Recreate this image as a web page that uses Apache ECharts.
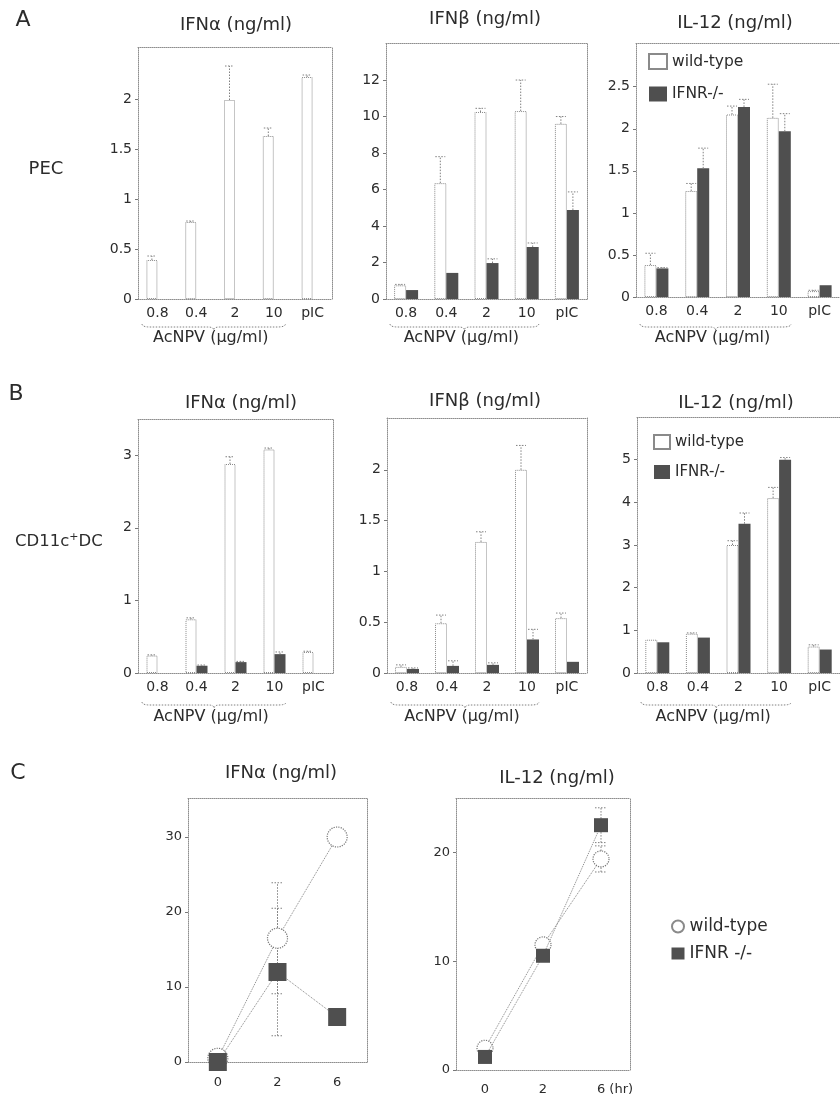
<!DOCTYPE html>
<html>
<head>
<meta charset="utf-8">
<script src="https://cdn.jsdelivr.net/npm/echarts@6/dist/echarts.min.js"></script>
<style>
html,body{margin:0;padding:0;background:#fff;}
#chart{width:840px;height:1100px;}
</style>
</head>
<body>
<div id="chart"></div>
<script>
// ---------- categories & labels ----------
const doses = ['0.8', '0.4', '2', '10', 'pIC'];
const hours = ['0', '2', '6'];
const hourUnit = '(hr)';
const groupNames = ['wild-type', 'IFNR-/-'];
const groupNamesC = ['wild-type', 'IFNR -/-'];
const doseAxisName = 'AcNPV (μg/ml)';
const panelLetters = ['A', 'B', 'C'];
const rowLabelPEC = 'PEC';

// ---------- A: PEC ----------
const pecIfnaWT   = [0.39, 0.77, 1.99, 1.63, 2.22];
const pecIfnaWTsd = [0.04, 0.01, 0.34, 0.08, 0.02];
const pecIfnaKO   = [null, null, null, null, null];
const pecIfnaKOsd = [0, 0, 0, 0, 0];

const pecIfnbWT   = [0.75, 6.35, 10.25, 10.3, 9.6];
const pecIfnbWTsd = [0.05, 1.45, 0.2, 1.7, 0.4];
const pecIfnbKO   = [0.49, 1.43, 1.97, 2.85, 4.88];
const pecIfnbKOsd = [0, 0, 0.23, 0.22, 0.99];

const pecIl12WT   = [0.38, 1.26, 2.17, 2.13, 0.07];
const pecIl12WTsd = [0.14, 0.09, 0.1, 0.4, 0.01];
const pecIl12KO   = [0.34, 1.53, 2.26, 1.97, 0.14];
const pecIl12KOsd = [0.01, 0.24, 0.09, 0.21, 0];

// ---------- B: CD11c+ DC ----------
const dcIfnaWT   = [0.24, 0.74, 2.88, 3.08, 0.29];
const dcIfnaWTsd = [0.01, 0.02, 0.1, 0.02, 0.01];
const dcIfnaKO   = [null, 0.1, 0.15, 0.26, null];
const dcIfnaKOsd = [0, 0.01, 0.01, 0.03, 0];

const dcIfnbWT   = [0.06, 0.49, 1.29, 2.0, 0.54];
const dcIfnbWTsd = [0.02, 0.08, 0.1, 0.24, 0.05];
const dcIfnbKO   = [0.04, 0.07, 0.08, 0.33, 0.11];
const dcIfnbKOsd = [0.01, 0.05, 0.02, 0.1, 0];

const dcIl12WT   = [0.78, 0.92, 3.0, 4.1, 0.62];
const dcIl12WTsd = [0, 0.02, 0.1, 0.25, 0.04];
const dcIl12KO   = [0.72, 0.83, 3.5, 5.0, 0.55];
const dcIl12KOsd = [0, 0, 0.25, 0.05, 0];

// ---------- C: time course ----------
const timeIfnaWT   = [0.5, 16.5, 30];
const timeIfnaWTsd = [0, 7.4, 0];
const timeIfnaKO   = [0, 12, 6];
const timeIfnaKOsd = [0, 8.5, 0];

const timeIl12WT   = [2.0, 11.5, 19.4];
const timeIl12WTsd = [0, 0, 1.2];
const timeIl12KO   = [1.2, 10.5, 22.5];
const timeIl12KOsd = [0, 0, 1.6];

// ---------- tick labels ----------
const ticksA1 = [0, 0.5, 1, 1.5, 2];
const ticksA2 = [0, 2, 4, 6, 8, 10, 12];
const ticksA3 = [0, 0.5, 1, 1.5, 2, 2.5];
const ticksB1 = [0, 1, 2, 3];
const ticksB2 = [0, 0.5, 1, 1.5, 2];
const ticksB3 = [0, 1, 2, 3, 4, 5];
const ticksC1 = [0, 10, 20, 30];
const ticksC2 = [0, 10, 20];

// ---------- styling ----------
const FONT = "'DejaVu Sans', sans-serif";
const INK = '#2c2c2c';
const FRAME = '#8e8e8e';
const DARK = '#4f4f4f';

const barPanels = [
  {grid:{left:138, top:47,  width:194, height:252}, max:2.52, ticks:ticksA1, bw:11, wt:pecIfnaWT, wtSd:pecIfnaWTsd, ko:pecIfnaKO, koSd:pecIfnaKOsd, title:'IFNα (ng/ml)', tx:236, ty:25},
  {grid:{left:386, top:43,  width:201, height:256}, max:14.03, ticks:ticksA2, bw:12, wt:pecIfnbWT, wtSd:pecIfnbWTsd, ko:pecIfnbKO, koSd:pecIfnbKOsd, title:'IFNβ (ng/ml)', tx:485, ty:19},
  {grid:{left:636, top:43,  width:213, height:254}, max:3.02, ticks:ticksA3, bw:12, wt:pecIl12WT, wtSd:pecIl12WTsd, ko:pecIl12KO, koSd:pecIl12KOsd, title:'IL-12 (ng/ml)', tx:735, ty:23},
  {grid:{left:138, top:419, width:195, height:254}, max:3.5, ticks:ticksB1, bw:11, wt:dcIfnaWT, wtSd:dcIfnaWTsd, ko:dcIfnaKO, koSd:dcIfnaKOsd, title:'IFNα (ng/ml)', tx:241, ty:403},
  {grid:{left:387, top:418, width:200, height:255}, max:2.51, ticks:ticksB2, bw:12, wt:dcIfnbWT, wtSd:dcIfnbWTsd, ko:dcIfnbKO, koSd:dcIfnbKOsd, title:'IFNβ (ng/ml)', tx:485, ty:401},
  {grid:{left:637, top:417, width:213, height:256}, max:6.0, ticks:ticksB3, bw:12, wt:dcIl12WT, wtSd:dcIl12WTsd, ko:dcIl12KO, koSd:dcIl12KOsd, title:'IL-12 (ng/ml)', tx:736, ty:403}
];
const linePanels = [
  {grid:{left:188, top:798, width:179, height:264}, max:35.2, ticks:ticksC1, sym:20, margin:14, unit:false, wt:timeIfnaWT, wtSd:timeIfnaWTsd, ko:timeIfnaKO, koSd:timeIfnaKOsd, title:'IFNα (ng/ml)', tx:281, ty:773},
  {grid:{left:456, top:798, width:174, height:272}, max:25, ticks:ticksC2, sym:16, margin:13, unit:true, wt:timeIl12WT, wtSd:timeIl12WTsd, ko:timeIl12KO, koSd:timeIl12KOsd, title:'IL-12 (ng/ml)', tx:557, ty:778}
];

const frameLine = {show:true, onZero:false, lineStyle:{color:FRAME, width:1, type:'dotted'}};

function frameAxes(p, xAxes, yAxes) {
  xAxes.push({type:'value', gridIndex:p, position:'top', min:0, max:1, axisLine:frameLine,
    axisTick:{show:false}, axisLabel:{show:false}, splitLine:{show:false}});
  yAxes.push({type:'value', gridIndex:p, position:'right', min:0, max:1, axisLine:frameLine,
    axisTick:{show:false}, axisLabel:{show:false}, splitLine:{show:false}});
}

function mainY(p, max, ticks, fs) {
  return {type:'value', gridIndex:p, min:0, max:max, position:'left',
    axisLine:frameLine, splitLine:{show:false},
    axisTick:{show:true, length:3, customValues:ticks, lineStyle:{color:'#777'}},
    axisLabel:{customValues:ticks, color:INK, fontFamily:FONT, fontSize:fs, margin:6}};
}

function errRows(mean, sd, side) {
  const rows = [];
  mean.forEach((m, i) => { if (m !== null && sd[i] > 0) rows.push([i, m, sd[i], side]); });
  return rows;
}

function errorSeries(p, rows, half, symmetric, capW, z) {
  return {type:'custom', xAxisIndex:2*p, yAxisIndex:2*p, z:z, silent:true,
    encode:{x:0, y:1}, data:rows,
    renderItem(params, api) {
      const cat = api.value(0), m = api.value(1), sd = api.value(2), side = api.value(3);
      const b = api.coord([cat, m]);
      const cx = b[0] + side * half;
      const yt = api.coord([cat, m + sd])[1];
      const yb = symmetric ? api.coord([cat, m - sd])[1] : b[1];
      const st = {stroke:'#808080', lineWidth:1, lineDash:[1.5, 1.5], fill:null};
      const ch = [
        {type:'line', shape:{x1:cx, y1:yb, x2:cx, y2:yt}, style:st},
        {type:'line', shape:{x1:cx - capW/2, y1:yt, x2:cx + capW/2, y2:yt}, style:st}
      ];
      if (symmetric) ch.push({type:'line', shape:{x1:cx - capW/2, y1:yb, x2:cx + capW/2, y2:yb}, style:st});
      return {type:'group', children:ch};
    }};
}

const grids = [], xAxes = [], yAxes = [], series = [];

barPanels.forEach((bp, p) => {
  grids.push(Object.assign({containLabel:false}, bp.grid));
  xAxes.push({type:'category', gridIndex:p, data:doses, position:'bottom',
    axisLine:frameLine, axisTick:{show:false},
    axisLabel:{interval:0, color:INK, fontFamily:FONT, fontSize:14, margin:7}});
  yAxes.push(mainY(p, bp.max, bp.ticks, 14));
  frameAxes(p, xAxes, yAxes);
  series.push({type:'bar', name:groupNames[0], xAxisIndex:2*p, yAxisIndex:2*p, data:bp.wt,
    barWidth:bp.bw, barGap:'0%',
    itemStyle:{color:'#ffffff', borderColor:'#8a8a8a', borderWidth:1, borderType:'dotted'}});
  series.push({type:'bar', name:groupNames[1], xAxisIndex:2*p, yAxisIndex:2*p, data:bp.ko,
    barWidth:bp.bw, barGap:'0%', itemStyle:{color:DARK}});
  series.push(errorSeries(p, errRows(bp.wt, bp.wtSd, -1).concat(errRows(bp.ko, bp.koSd, 1)),
    bp.bw/2, false, bp.bw - 2, 3));
});

linePanels.forEach((lp, k) => {
  const p = barPanels.length + k;
  grids.push(Object.assign({containLabel:false}, lp.grid));
  const lab = {interval:0, color:INK, fontFamily:FONT, fontSize:13, margin:lp.margin};
  if (lp.unit) {
    lab.formatter = (v, i) => i === hours.length - 1 ? '{p|}{a|' + v + '}{h| ' + hourUnit + '}' : v;
    lab.rich = {p:{width:28, fontSize:13, fontFamily:FONT}, a:{fontSize:13, fontFamily:FONT, color:INK},
                h:{fontSize:13, fontFamily:FONT, color:INK}};
  }
  xAxes.push({type:'category', gridIndex:p, data:hours, position:'bottom',
    axisLine:frameLine, axisTick:{show:false}, axisLabel:lab});
  yAxes.push(mainY(p, lp.max, lp.ticks, 13));
  frameAxes(p, xAxes, yAxes);
  const rows = errRows(lp.wt, lp.wtSd, 0).concat(errRows(lp.ko, lp.koSd, 0));
  series.push(errorSeries(p, rows, 0, true, 12, 1));
  series.push({type:'line', name:groupNamesC[0], xAxisIndex:2*p, yAxisIndex:2*p, data:lp.wt,
    symbol:'circle', symbolSize:lp.sym, z:2,
    lineStyle:{color:'#858585', width:1, type:'dotted'},
    itemStyle:{color:'#ffffff', borderColor:'#777777', borderWidth:1.2, borderType:'dotted'}});
  series.push({type:'line', name:groupNamesC[1], xAxisIndex:2*p, yAxisIndex:2*p, data:lp.ko,
    symbol:'rect', symbolSize:lp.sym - 2, z:3,
    lineStyle:{color:'#858585', width:1, type:'dotted'},
    itemStyle:{color:DARK}});
});

const legendText = (fs) => ({color:INK, fontFamily:FONT, fontSize:fs, lineHeight:16});

const option = {
  animation:false,
  backgroundColor:'#ffffff',
  grid:grids, xAxis:xAxes, yAxis:yAxes, series:series,
  legend:[
    {left:648, top:53, padding:0, orient:'vertical', selectedMode:false, itemWidth:18, itemHeight:15, itemGap:16,
      icon:'rect', data:groupNames, textStyle:legendText(15.5)},
    {left:653, top:434, padding:0, orient:'vertical', selectedMode:false, itemWidth:16, itemHeight:14, itemGap:14,
      icon:'rect', data:groupNames, textStyle:legendText(15)},
    {left:671, top:918, padding:0, orient:'vertical', selectedMode:false, itemWidth:13, itemHeight:12, itemGap:10,
      data:[{name:groupNamesC[0], icon:'circle'}, {name:groupNamesC[1], icon:'rect'}], textStyle:legendText(17)}
  ]
};

const chart = echarts.init(document.getElementById('chart'), null, {renderer:'canvas'});
chart.setOption(option);

// ---------- annotations (titles, braces, row labels) ----------
const g = [];
const textEl = (txt, x, y, fs, align) => ({type:'text', x:x, y:y, silent:true,
  style:{text:txt, fill:INK, font:fs + 'px ' + FONT, align:align || 'center', verticalAlign:'middle'}});

barPanels.concat(linePanels).forEach(pp => g.push(textEl(pp.title, pp.tx, pp.ty, 18)));

function quad(pts, a, c, b, n) {
  for (let i = 1; i <= n; i++) {
    const t = i / n, u = 1 - t;
    pts.push([u*u*a[0] + 2*u*t*c[0] + t*t*b[0], u*u*a[1] + 2*u*t*c[1] + t*t*b[1]]);
  }
}

const braceRows = [{top:324, textY:338}, {top:702, textY:717}];
barPanels.forEach((bp, p) => {
  const row = braceRows[Math.floor(p / 3)];
  const c0 = chart.convertToPixel({xAxisIndex:2*p}, 0);
  const c1 = chart.convertToPixel({xAxisIndex:2*p}, 1);
  const c3 = chart.convertToPixel({xAxisIndex:2*p}, 3);
  const cw = c1 - c0;
  const x0 = c0 - cw/2 + 4, x1 = c3 + cw*0.3, xm = (x0 + x1)/2, y = row.top;
  const pts = [[x0, y]];
  quad(pts, [x0, y], [x0, y+3], [x0+8, y+3], 6);
  pts.push([xm-6, y+3]);
  quad(pts, [xm-6, y+3], [xm, y+3], [xm, y+6], 5);
  quad(pts, [xm, y+6], [xm, y+3], [xm+6, y+3], 5);
  pts.push([x1-8, y+3]);
  quad(pts, [x1-8, y+3], [x1, y+3], [x1, y], 6);
  g.push({type:'polyline', silent:true, shape:{points:pts},
    style:{fill:null, stroke:'#808080', lineWidth:1, lineDash:[1.5, 1.5]}});
  g.push(textEl(doseAxisName, xm - 3, row.textY, 16));
});

g.push(textEl(panelLetters[0], 23, 20, 22));
g.push(textEl(panelLetters[1], 16, 394, 22));
g.push(textEl(panelLetters[2], 18, 773, 22));
g.push(textEl(rowLabelPEC, 46, 169, 18));
g.push({type:'text', x:15, y:541, silent:true,
  style:{text:'{n|CD11c}{s|+}{n|DC}', align:'left', verticalAlign:'middle',
    rich:{n:{fontSize:16.5, fontFamily:FONT, fill:INK, lineHeight:19, verticalAlign:'bottom'},
          s:{fontSize:11, fontFamily:FONT, fill:INK, lineHeight:19, verticalAlign:'top', padding:[0,0,6,0]}}}});

chart.setOption({graphic:g});
</script>
</body>
</html>
